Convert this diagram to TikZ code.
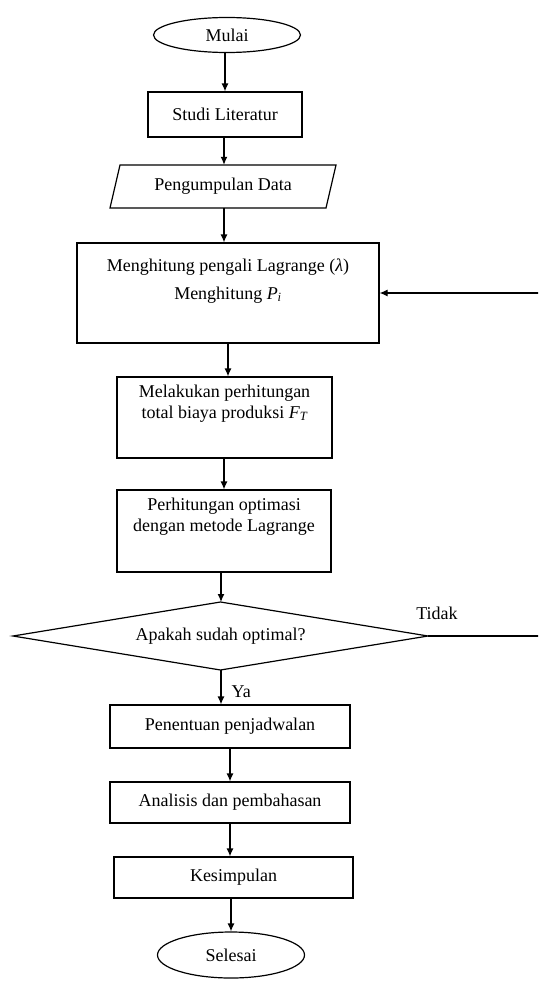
\documentclass[tikz,border=0pt]{standalone}
\usepackage{fontspec}
\setmainfont{Liberation Serif}
\usetikzlibrary{shapes.geometric,arrows.meta,calc}
\tikzset{
  every node/.style={font=\fontsize{18}{21}\selectfont},
  box/.style={draw, line width=1.2pt, inner sep=0pt},
  oval/.style={draw, ellipse, line width=1.2pt, inner sep=0pt},
  arr/.style={line width=1.2pt, -{Latex[length=8pt,width=7pt]}},
  ln/.style={line width=1.2pt},
  txt/.style={align=center, inner sep=0pt}
}
\begin{document}
\begin{tikzpicture}[x=1pt,y=-1pt]
\useasboundingbox (0,0) rectangle (538,982);
\clip (0,0) rectangle (538,982);
\fill[white] (0,0) rectangle (538,982);
% nodes
\node[oval, minimum width=147, minimum height=35] (mulai) at (227,35) {Mulai};
\node[box, minimum width=154, minimum height=45] (studi) at (225,114.5) {Studi Literatur};
\node[txt, minimum width=216, minimum height=43] (data) at (223,186.5) {Pengumpulan Data};
\draw[ln] (120,165) -- (336,165) -- (326,208) -- (110,208) -- cycle;
\node[box, minimum width=302, minimum height=100] (big) at (228,293) {};
\node[txt] (bigtxt) at (228,281) {Menghitung pengali Lagrange (\textit{λ})\\[7pt] Menghitung \textit{P\textsubscript{i}}};
\node[box, minimum width=215, minimum height=81] (mel) at (224.5,417.5) {};
\node[txt] (meltxt) at (224.5,403.5) {Melakukan perhitungan\\ total biaya produksi \textit{F\textsubscript{T}}};
\node[box, minimum width=214, minimum height=82] (per) at (224,531) {};
\node[txt] (pertxt) at (224,516.5) {Perhitungan optimasi\\ dengan metode Lagrange};
% decision
\coordinate (dtop) at (220.5,602);
\coordinate (dbot) at (220.5,670);
\coordinate (dleft) at (13,636);
\coordinate (dright) at (428,636);
\draw[ln] (dleft) -- (dtop) -- (dright) -- (dbot) -- cycle;
\node[txt] (dec) at (220.5,636) {Apakah sudah optimal?};
\node[txt] (tidak) at (437,613) {Tidak};
\node[box, minimum width=240, minimum height=43] (pen) at (230,726.5) {Penentuan penjadwalan};
\node[box, minimum width=240, minimum height=41] (ana) at (230,802.5) {Analisis dan pembahasan};
\node[box, minimum width=239, minimum height=41] (kes) at (233.5,877.5) {Kesimpulan};
\node[oval, minimum width=147, minimum height=46] (sel) at (231,955) {Selesai};
% connectors
\draw[arr] (mulai.south -| 225,0) -- (studi.north -| 225,0);
\draw[arr] (studi.south -| 224,0) -- (data.north -| 224,0);
\draw[arr] (data.south -| 224,0) -- (big.north -| 224,0);
\draw[arr] (big.south -| 228,0) -- (mel.north -| 228,0);
\draw[arr] (mel.south -| 224,0) -- (per.north -| 224,0);
\draw[arr] (per.south -| 221,0) -- (dtop -| 221,0);
\draw[arr] (dbot -| 221,0) -- node[right, inner sep=0pt, xshift=10pt, yshift=-4pt] (ya) {Ya} (pen.north -| 221,0);
\draw[arr] (pen.south -| 230,0) -- (ana.north -| 230,0);
\draw[arr] (ana.south -| 230,0) -- (kes.north -| 230,0);
\draw[arr] (kes.south -| 231,0) -- (sel.north -| 231,0);
\coordinate (fb) at (542,636);
\draw[arr] (dright) -- (fb) |- (big.east);
\end{tikzpicture}
\end{document}
